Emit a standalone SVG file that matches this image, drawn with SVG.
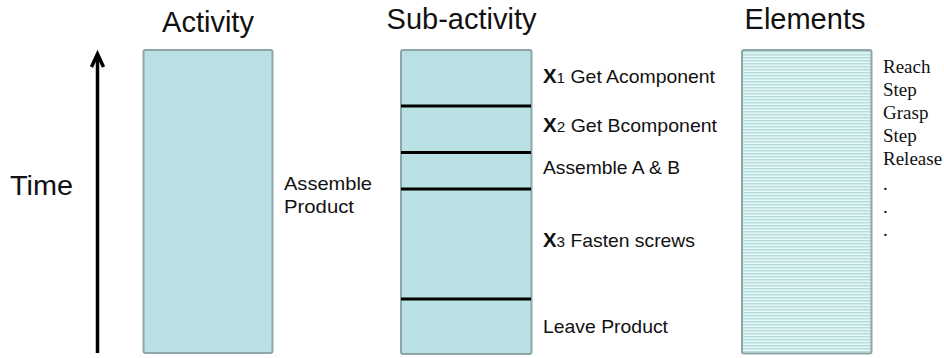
<svg xmlns="http://www.w3.org/2000/svg" width="944" height="358" viewBox="0 0 944 358">
<style>
.title{font-family:"Liberation Sans",Arial,sans-serif;font-size:29px;fill:#111}
.lbl{font-family:"Liberation Sans",Arial,sans-serif;font-size:19px;fill:#111}
.el{font-family:"Liberation Serif","Times New Roman",serif;font-size:19px;fill:#111}
.box{fill:#b9e0e3;stroke:#8fa5a8;stroke-width:2}
.sep{stroke:#000;stroke-width:3}
</style>
<defs>
<pattern id="stripes" x="0" y="0" width="4" height="3" patternUnits="userSpaceOnUse">
<rect width="4" height="3" fill="#e6f5f5"/>
<rect y="0" width="4" height="1.4" fill="#b3dcdc"/>
</pattern>
</defs>
<g id="time-axis">
<line x1="97.5" y1="56" x2="97.5" y2="353" stroke="#000" stroke-width="3.5"/>
<polyline points="91.5,67 97.5,54 103.5,67" fill="none" stroke="#000" stroke-width="3.5" stroke-linejoin="miter"/>
<text x="10" y="195" class="title" style="font-size:28px" textLength="63" lengthAdjust="spacingAndGlyphs">Time</text>
</g>
<g id="activity">
<text x="208" y="32" class="title" text-anchor="middle">Activity</text>
<rect class="box" x="143.5" y="50" width="129" height="303" rx="2"/>
<text x="284" y="190" class="lbl" textLength="88" lengthAdjust="spacingAndGlyphs">Assemble</text>
<text x="284" y="212.5" class="lbl" textLength="70" lengthAdjust="spacingAndGlyphs">Product</text>
</g>
<g id="sub-activity">
<text x="461.5" y="29" class="title" text-anchor="middle">Sub-activity</text>
<rect class="box" x="401" y="50" width="130.5" height="304" rx="2"/>
<text x="543" y="82.5" class="lbl" textLength="172" lengthAdjust="spacingAndGlyphs"><tspan font-weight="bold" font-size="20">X</tspan><tspan font-size="15">1</tspan> Get Acomponent</text>
<text x="543" y="131.5" class="lbl" textLength="174" lengthAdjust="spacingAndGlyphs"><tspan font-weight="bold" font-size="20">X</tspan><tspan font-size="15">2</tspan> Get Bcomponent</text>
<text x="543" y="174" class="lbl" textLength="137" lengthAdjust="spacingAndGlyphs">Assemble A &amp; B</text>
<text x="543" y="246.5" class="lbl" textLength="152" lengthAdjust="spacingAndGlyphs"><tspan font-weight="bold" font-size="20">X</tspan><tspan font-size="15">3</tspan> Fasten screws</text>
<text x="543" y="332.5" class="lbl" textLength="125" lengthAdjust="spacingAndGlyphs">Leave Product</text>
</g>
<g id="separators">
<line class="sep" x1="401" y1="106" x2="531" y2="106"/>
<line class="sep" x1="401" y1="152.5" x2="531" y2="152.5"/>
<line class="sep" x1="401" y1="189" x2="531" y2="189"/>
<line class="sep" x1="401" y1="299" x2="531" y2="299"/>
</g>
<g id="elements">
<text x="805" y="29" class="title" text-anchor="middle">Elements</text>
<rect x="742" y="50" width="129.5" height="303.5" rx="2" fill="url(#stripes)" stroke="#8fa5a8" stroke-width="2"/>
<text x="883" y="72.7" class="el">Reach</text>
<text x="883" y="95.5" class="el">Step</text>
<text x="883" y="118.5" class="el">Grasp</text>
<text x="883" y="141.7" class="el">Step</text>
<text x="883" y="165" class="el">Release</text>
<text x="883" y="190" class="el">.</text>
<text x="883" y="213" class="el">.</text>
<text x="883" y="236" class="el">.</text>
</g>
</svg>
